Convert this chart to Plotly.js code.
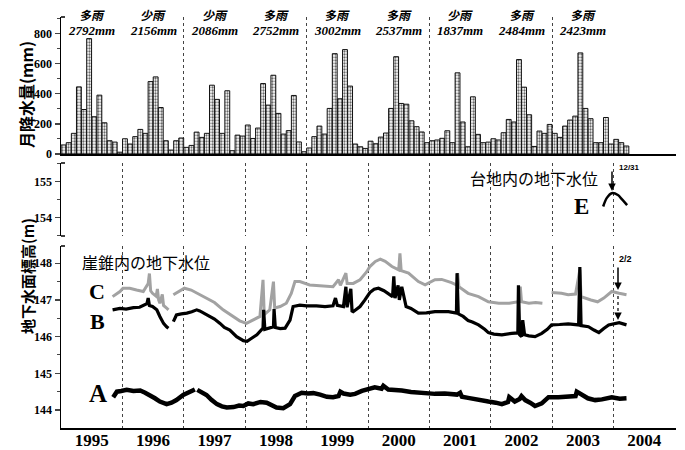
<!DOCTYPE html>
<html>
<head>
<meta charset="utf-8">
<script src="https://cdn.plot.ly/plotly-3.0.1.min.js"></script>
<style>html,body{margin:0;padding:0;background:#fff;}#chart{width:685px;height:450px;}</style>
</head>
<body>
<div id="chart"></div>
<script>
// ---- Monthly precipitation (mm) ----
const r1995 = [60,75,137,445,295,765,247,390,207,88,79,12];
const r1996 = [101,66,115,163,137,480,511,308,88,26,88,106];
const r1997 = [44,57,145,110,137,456,362,137,419,22,125,119];
const r1998 = [192,103,172,467,324,522,269,132,155,388,80,15];
const r1999 = [40,115,185,132,302,665,366,692,450,66,48,37];
const r2000 = [85,68,112,139,302,645,335,330,220,181,146,75];
const r2001 = [88,93,104,154,75,538,212,48,379,130,75,79];
const r2002 = [101,93,141,229,212,626,443,260,50,152,137,196];
const r2003 = [137,110,185,225,251,670,302,234,75,75,242,66];
const r2004 = [97,75,53];

// ---- Annual labels ----
const years = [1995,1996,1997,1998,1999,2000,2001,2002,2003];
const yearType = ['多雨','少雨','少雨','多雨','多雨','多雨','少雨','多雨','多雨'];
const yearTotal = [2792,2156,2086,2752,3002,2537,1837,2484,2423];
const tickYears = [1995,1996,1997,1998,1999,2000,2001,2002,2003,2004];

// ---- Groundwater levels (m), decimal year ----
const cX = [1995.84,1995.96,1996.01,1996.12,1996.23,1996.34,1996.42,1996.44,1996.46,1996.49,1996.55,1996.57,1996.59,1996.61,1996.65,1996.67,1996.72,1996.75,null,
 1996.83,1996.91,1997.01,1997.12,1997.26,1997.42,1997.50,1997.64,1997.80,1997.91,1998.02,1998.13,1998.24,1998.29,1998.31,1998.40,1998.46,1998.48,1998.57,1998.67,1998.75,1998.81,1998.89,
 1999.05,1999.22,1999.43,1999.52,1999.55,1999.64,1999.66,1999.76,1999.87,1999.98,2000.03,2000.12,2000.20,2000.28,2000.39,2000.50,2000.52,2000.54,2000.66,2000.82,2000.93,
 2001.09,2001.20,2001.36,2001.45,2001.46,2001.48,2001.63,2001.80,2001.96,2002.13,2002.30,2002.45,2002.48,2002.50,2002.62,2002.73,2002.84,null,
 2002.99,2003.15,2003.26,2003.38,2003.45,2003.47,2003.63,2003.74,2003.84,2003.97,2004.09,2004.21];
const cY = [147.09,147.23,147.32,147.32,147.27,147.23,147.45,147.72,147.25,147.18,147.10,147.30,147.00,146.91,147.15,146.85,146.78,146.73,null,
 147.14,147.23,147.32,147.27,147.14,147.00,146.93,146.73,146.55,146.43,146.36,146.45,146.55,147.55,146.60,146.73,147.50,146.78,146.82,146.91,147.18,147.50,147.50,
 147.41,147.38,147.36,147.55,147.40,147.73,147.45,147.45,147.55,147.77,147.91,148.05,148.11,148.05,147.91,147.82,148.27,147.80,147.73,147.50,147.41,
 147.55,147.56,147.47,147.40,147.73,147.36,147.18,147.09,146.95,146.91,146.91,146.95,147.36,146.95,146.91,146.93,146.91,null,
 147.20,147.18,147.14,147.16,147.82,147.09,147.00,146.95,147.05,147.23,147.18,147.14];

const bX = [1995.84,1995.96,1996.06,1996.18,1996.28,1996.34,1996.40,1996.42,1996.44,1996.49,1996.56,1996.61,1996.67,1996.72,1996.75,null,
 1996.83,1996.88,1996.96,1997.05,1997.13,1997.21,1997.26,1997.32,1997.43,1997.50,1997.59,1997.66,1997.75,1997.86,1997.97,1998.03,1998.08,1998.19,1998.29,1998.30,1998.32,1998.40,1998.46,1998.47,1998.49,1998.57,1998.65,1998.73,1998.78,1998.89,
 1999.00,1999.16,1999.30,1999.43,1999.47,1999.50,1999.60,1999.64,1999.66,1999.72,1999.74,1999.76,1999.82,1999.87,1999.95,2000.03,2000.10,2000.17,2000.26,2000.33,2000.40,2000.42,2000.44,2000.49,2000.51,2000.55,2000.62,2000.70,2000.82,2000.95,
 2001.09,2001.31,2001.44,2001.45,2001.47,2001.55,2001.63,2001.70,2001.80,2001.90,2001.96,2002.05,2002.18,2002.34,2002.44,2002.45,2002.47,2002.50,2002.52,2002.55,2002.62,2002.72,2002.83,2002.92,2002.99,
 2003.12,2003.26,2003.43,2003.45,2003.47,2003.59,2003.68,2003.76,2003.84,2003.92,2004.09,2004.21];
const bY = [146.73,146.77,146.75,146.79,146.80,146.84,146.90,147.05,146.85,146.82,146.73,146.55,146.36,146.27,146.23,null,
 146.41,146.59,146.62,146.64,146.68,146.73,146.70,146.64,146.55,146.48,146.36,146.25,146.18,146.00,145.89,145.87,145.93,146.05,146.23,146.73,146.20,146.25,146.27,146.75,146.25,146.22,146.23,146.45,146.82,146.86,
 146.84,146.84,146.82,146.84,147.05,146.85,146.82,147.36,146.80,147.30,146.70,146.68,146.75,146.82,147.00,147.20,147.29,147.32,147.25,147.18,147.09,147.64,147.05,147.40,147.00,147.36,146.82,146.77,146.64,146.65,
 146.68,146.68,146.64,147.73,146.62,146.55,146.44,146.40,146.32,146.20,146.11,146.07,146.05,146.09,146.10,147.40,146.05,146.00,146.45,146.05,146.02,146.00,146.09,146.20,146.32,
 146.33,146.35,146.32,147.90,146.30,146.27,146.18,146.11,146.22,146.32,146.38,146.32];

const aX = [1995.85,1995.91,1995.98,1996.07,1996.18,1996.29,1996.37,1996.45,1996.53,1996.61,1996.72,1996.80,1996.88,1996.99,1997.08,1997.13,1997.18,null,
 1997.22,1997.30,1997.37,1997.45,1997.54,1997.62,1997.70,1997.81,1997.90,1997.97,1998.05,1998.13,1998.25,1998.35,1998.43,1998.51,1998.62,1998.73,1998.81,1998.92,
 1999.02,1999.11,1999.22,1999.33,1999.43,1999.52,1999.55,1999.60,1999.71,1999.79,1999.90,1999.98,2000.11,2000.22,2000.25,2000.33,2000.44,2000.55,2000.70,2000.82,
 2001.00,2001.09,2001.25,2001.36,2001.45,2001.50,2001.53,2001.63,2001.74,2001.85,2001.96,2002.08,2002.18,2002.28,2002.30,2002.39,2002.47,2002.50,2002.56,2002.64,2002.72,2002.83,2002.94,
 2003.10,2003.26,2003.38,2003.40,2003.48,2003.58,2003.70,2003.81,2003.97,2004.10,2004.21];
const aY = [144.35,144.50,144.52,144.55,144.52,144.53,144.47,144.41,144.32,144.23,144.16,144.20,144.27,144.41,144.48,144.53,144.56,null,
 144.55,144.47,144.41,144.28,144.16,144.10,144.07,144.08,144.12,144.11,144.18,144.16,144.22,144.20,144.12,144.07,144.05,144.16,144.38,144.47,
 144.45,144.46,144.42,144.36,144.35,144.38,144.50,144.45,144.42,144.44,144.52,144.56,144.62,144.58,144.66,144.56,144.55,144.53,144.49,144.47,
 144.45,144.44,144.45,144.44,144.42,144.47,144.36,144.33,144.29,144.26,144.23,144.20,144.16,144.22,144.35,144.23,144.30,144.38,144.27,144.20,144.11,144.18,144.35,
 144.35,144.36,144.38,144.50,144.41,144.32,144.27,144.29,144.35,144.31,144.32];

const eX = [2003.83,2003.89,2003.97,2004.07,2004.13,2004.22];
const eY = [154.31,154.55,154.68,154.63,154.52,154.35];

// ---- build ----
const rain = [].concat(r1995,r1996,r1997,r1998,r1999,r2000,r2001,r2002,r2003,r2004);
const rainX = rain.map((_, i) => 1995 + (i + 0.5) / 12);

const px = x => (x - 61) / 615;
const py = y => (428 - y) / 421;

const SERIF = 'Liberation Serif, Times New Roman, serif';
const CJK = 'Noto Sans CJK JP, sans-serif';

const traces = [
  {type:'bar', x: rainX, y: rain, xaxis:'x2', yaxis:'y3', width: 0.95/12,
   marker:{color:'#ffffff', line:{color:'#111', width:1},
           pattern:{shape:'.', fgcolor:'#6a6a6a', bgcolor:'#ffffff', size:3, solidity:0.45, fillmode:'replace'}},
   hoverinfo:'skip', name:'月降水量'},
  {type:'scatter', mode:'lines', x:cX, y:cY, xaxis:'x', yaxis:'y', line:{color:'#a2a2a2', width:3}, name:'C'},
  {type:'scatter', mode:'lines', x:bX, y:bY, xaxis:'x', yaxis:'y', line:{color:'#000', width:3.2}, name:'B'},
  {type:'scatter', mode:'lines', x:aX, y:aY, xaxis:'x', yaxis:'y', line:{color:'#000', width:4.5}, name:'A'},
  {type:'scatter', mode:'lines', x:eX, y:eY, xaxis:'x', yaxis:'y2', line:{color:'#000', width:2.5, shape:'spline'}, name:'E'}
];

const annotations = [];
years.forEach((yr, i) => {
  annotations.push({xref:'x', yref:'paper', x: yr + 0.5, y: py(15), text: yearType[i], showarrow:false,
    font:{family:CJK, size:12, color:'#000', weight:'bold', style:'italic'}, xanchor:'center', yanchor:'middle'});
  annotations.push({xref:'x', yref:'paper', x: yr + 0.5, y: py(31), text: yearTotal[i] + 'mm', showarrow:false,
    font:{family:SERIF, size:13, color:'#000', weight:'bold', style:'italic'}, xanchor:'center', yanchor:'middle'});
});
const txt = (x, y, t, font, xa) => annotations.push({xref:'paper', yref:'paper', x:px(x), y:py(y), text:t, showarrow:false, font:font, xanchor:xa||'center', yanchor:'middle'});
txt(80, 262, '崖錐内の地下水位', {family:CJK, size:16, color:'#000'}, 'left');
txt(468, 178, '台地内の地下水位', {family:CJK, size:16, color:'#000'}, 'left');
txt(97, 291, 'C', {family:SERIF, size:22, color:'#000', weight:'bold'});
txt(97, 321, 'B', {family:SERIF, size:22, color:'#000', weight:'bold'});
txt(98, 393, 'A', {family:SERIF, size:25, color:'#000', weight:'bold'});
txt(581, 206, 'E', {family:SERIF, size:23, color:'#000', weight:'bold'});
txt(617, 167, '12/31', {family:'Liberation Sans, Arial, sans-serif', size:8, color:'#000', weight:'bold'}, 'left');
txt(617, 259, '2/2', {family:'Liberation Sans, Arial, sans-serif', size:9, color:'#000', weight:'bold'}, 'left');
// axis titles
annotations.push({xref:'paper', yref:'paper', x:px(26), y:py(95), text:'月降水量(mm)', showarrow:false, textangle:-90,
  font:{family:CJK, size:16, color:'#000', weight:'bold'}, xanchor:'center', yanchor:'middle'});
annotations.push({xref:'paper', yref:'paper', x:px(27), y:py(276), text:'地下水面標高(m)', showarrow:false, textangle:-90,
  font:{family:CJK, size:15, color:'#000', weight:'bold'}, xanchor:'center', yanchor:'middle'});
// arrows
const arrow = (x, y, len) => annotations.push({xref:'paper', yref:'paper', x:px(x), y:py(y), ax:0, ay:-len, text:'', showarrow:true,
  arrowhead:2, arrowsize:1, arrowwidth:1.5, arrowcolor:'#000'});
arrow(612, 191, 21);
arrow(618, 290, 24);
arrow(618, 320, 8);

const cap = y => ({type:'line', xref:'paper', yref:'paper', x0:0, x1:px(65), y0:py(y), y1:py(y), line:{color:'#000', width:1.5}});
const shapes = [cap(17), cap(163), cap(236), cap(246),
  {type:'line', xref:'paper', yref:'paper', x0:px(618), x1:px(618), y0:py(296), y1:py(313), line:{color:'#000', width:1.2, dash:'dot'}}];

const gridMinor = {tick0:1995, dtick:1, showgrid:true, griddash:'dot', gridcolor:'#444', gridwidth:1, ticks:''};
const tickFont = {family:SERIF, size:12, color:'#000', weight:'bold'};

const layout = {
  width:685, height:450, margin:{l:61, r:9, t:7, b:22},
  paper_bgcolor:'#fff', plot_bgcolor:'#fff', showlegend:false, bargap:0,
  font:{family:SERIF, color:'#000'},
  xaxis:{domain:[0,1], anchor:'y', range:[1995, 2005.016], tickvals:tickYears.map(y => y + 0.5), ticktext:tickYears.map(String),
    ticks:'', showgrid:false, zeroline:false, showline:true, linecolor:'#000', linewidth:2, ticklabelstandoff:-4,
    tickfont:{family:SERIF, size:17, color:'#000', weight:'bold'}, minor:gridMinor},
  xaxis2:{domain:[0,1], anchor:'y3', matches:'x', range:[1995, 2005.016], showticklabels:false, ticks:'', showgrid:false,
    zeroline:false, showline:true, linecolor:'#000', linewidth:2, minor:gridMinor},
  yaxis:{domain:[0, py(246)], anchor:'x', range:[143.51, 148.47], tickvals:[144,145,146,147,148], ticks:'outside', ticklen:5, tickwidth:1.5,
    showgrid:false, zeroline:false, showline:true, linecolor:'#000', linewidth:1.5, tickfont:tickFont,
    minor:{dtick:0.5, tick0:144, ticks:'outside', ticklen:3, tickwidth:1, showgrid:false}},
  yaxis2:{domain:[py(236), py(163)], anchor:'x', range:[153.49, 155.52], tickvals:[154,155], ticks:'outside', ticklen:5, tickwidth:1.5,
    showgrid:false, zeroline:false, showline:true, linecolor:'#000', linewidth:1.5, tickfont:tickFont,
    minor:{dtick:0.5, tick0:154, ticks:'outside', ticklen:3, tickwidth:1, showgrid:false}},
  yaxis3:{domain:[py(154), py(17)], anchor:'x2', range:[0, 908], tickvals:[0,200,400,600,800], ticks:'outside', ticklen:5, tickwidth:1.5,
    showgrid:false, zeroline:false, showline:true, linecolor:'#000', linewidth:1.5, tickfont:tickFont,
    minor:{dtick:100, tick0:0, ticks:'outside', ticklen:3, tickwidth:1, showgrid:false}},
  annotations: annotations,
  shapes: shapes
};

Plotly.newPlot('chart', traces, layout, {displayModeBar:false, staticPlot:true});
</script>
</body>
</html>
